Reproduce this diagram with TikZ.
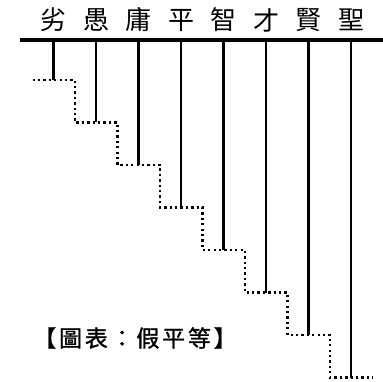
\documentclass[tikz,border=0pt]{standalone}
\usepackage{fontspec}
\newfontfamily\cjk{Noto Sans CJK TC}
\newfontfamily\cjklab[LetterSpace=12,FakeBold=1.2]{Noto Sans CJK TC}
\begin{document}
\begin{tikzpicture}[x=1pt,y=-1pt,
  solidline/.style={line width=2.8pt},
  stair/.style={line width=2.3pt, dash pattern=on 2.3pt off 3.1pt},
  toplabel/.style={font=\cjk\fontsize{26}{26}\selectfont, inner sep=0pt, anchor=center}]
\useasboundingbox (0,0) rectangle (383,382);
\draw[line width=3.2pt] (20,40) coordinate (hl) -- (383,40) coordinate (hr);
\foreach \t [count=\k from 0] in {劣,愚,庸,平,智,才,賢,聖} {
  \pgfmathsetmacro{\xx}{53.5+42.5*\k}
  \pgfmathsetmacro{\yy}{80+42.5*\k}
  \node[toplabel] (l\k) at (\xx,20) {\t};
  \coordinate (t\k) at (\xx,40);
  \coordinate (b\k) at (\xx,\yy);
  \draw[solidline] (t\k) -- (b\k);
  \coordinate (sl\k) at (\xx-21,\yy);
  \coordinate (sr\k) at (\xx+21.5,\yy);
}
\draw[stair] (sl0) -- (sr0) |- (sr1) |- (sr2) |- (sr3) |- (sr4) |- (sr5) |- (sr6) |- (sr7);
\node[font=\cjklab\fontsize{23}{23}\selectfont, inner sep=0pt] (cap) at (135,338) {【圖表：假平等】};
\end{tikzpicture}
\end{document}
